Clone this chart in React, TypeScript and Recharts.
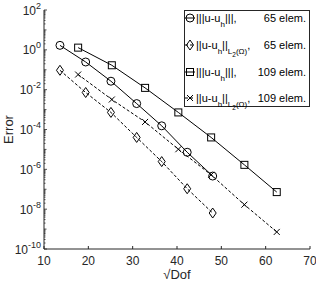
import React from "react";
import { LineChart, Line, XAxis, YAxis } from "recharts";

// sqrt(Dof) for the two meshes
const dof65 = [13.6, 19.4, 25.1, 30.9, 36.55, 42.3, 48.05];
const dof109 = [17.7, 25.3, 32.8, 40.3, 47.7, 55.2, 62.5];

// errors
const energy65 = [1.68, 0.245, 0.0266, 2.0e-3, 1.53e-4, 7.2e-6, 4.6e-7];
const l2err65 = [0.094, 7.2e-3, 7.2e-4, 4.0e-5, 2.45e-6, 1.06e-7, 6.4e-9];
const energy109 = [1.29, 0.168, 0.0123, 7.2e-4, 4.0e-5, 1.68e-6, 7.2e-8];
const l2err109 = [0.0575, 3.2e-3, 2.4e-4, 1.02e-5, 5.3e-7, 1.68e-8, 7.2e-10];

const xTicks = [10, 20, 30, 40, 50, 60, 70];
const yMajorTicks = [1e2, 1e0, 1e-2, 1e-4, 1e-6, 1e-8, 1e-10];
const legendElems = ["65 elem.", "65 elem.", "109 elem.", "109 elem."];

// minor log ticks (1..9 x 10^k)
const yAllTicks: number[] = [];
for (let e = -10; e < 2; e++) {
    for (let m = 1; m < 10; m++) yAllTicks.push(m * Math.pow(10, e));
}
yAllTicks.push(100);

const AX = "#262626";
const FONT = '"Liberation Sans", Arial, Helvetica, sans-serif';

const isMajor = (v: number) =>
    yMajorTicks.some((t) => Math.abs(Math.log10(v) - Math.log10(t)) < 1e-6);
const isDecade = (v: number) => Math.abs(Math.log10(v) - Math.round(Math.log10(v))) < 1e-6;

const toRows = (xs: number[], ys: number[]) => xs.map((x, i) => ({ x, err: ys[i] }));

function BottomTick({ x, y, payload }: any) {
    const y0 = y - 6;
    return (
        <g>
            <line x1={x} x2={x} y1={y0} y2={y0 - 3} stroke={AX} />
            <text x={x} y={y + 10} textAnchor="middle" fontSize={12} fill={AX} fontFamily={FONT}>
                {payload.value}
            </text>
        </g>
    );
}

function TopTick({ x, y }: any) {
    return <line x1={x} x2={x} y1={y} y2={y + 3} stroke={AX} />;
}

function LeftTick({ x, y, payload }: any) {
    const x0 = x + 3;
    const v = payload.value;
    const len = isMajor(v) ? 3 : isDecade(v) ? 2.5 : 1.5;
    const exp = Math.round(Math.log10(v));
    return (
        <g>
            <line x1={x0} x2={x0 + len} y1={y} y2={y} stroke={AX} strokeWidth={0.8} />
            {isMajor(v) && (
                <text x={x} y={y + 4.5} textAnchor="end" fontSize={12} fill={AX} fontFamily={FONT}>
                    <tspan>10</tspan>
                    <tspan dy={-6} fontSize={9}>{exp}</tspan>
                </text>
            )}
        </g>
    );
}

function RightTick({ x, y, payload }: any) {
    const v = payload.value;
    const len = isMajor(v) ? 3 : isDecade(v) ? 2.5 : 1.5;
    return <line x1={x} x2={x - len} y1={y} y2={y} stroke={AX} strokeWidth={0.8} />;
}

const circleDot = (p: any) => (
    <circle key={`c${p.index}`} cx={p.cx} cy={p.cy} r={4} fill="none" stroke="#000" />
);
const diamondDot = (p: any) => (
    <polygon
        key={`d${p.index}`}
        points={`${p.cx},${p.cy - 5} ${p.cx + 3.5},${p.cy} ${p.cx},${p.cy + 5} ${p.cx - 3.5},${p.cy}`}
        fill="none"
        stroke="#000"
    />
);
const squareDot = (p: any) => (
    <rect key={`s${p.index}`} x={p.cx - 3.5} y={p.cy - 3.5} width={7} height={7} fill="none" stroke="#000" />
);
const crossDot = (p: any) => (
    <path
        key={`x${p.index}`}
        d={`M${p.cx - 3},${p.cy - 3}L${p.cx + 3},${p.cy + 3}M${p.cx - 3},${p.cy + 3}L${p.cx + 3},${p.cy - 3}`}
        stroke="#000"
        fill="none"
    />
);

function LegendIcon({ kind, dashed }: { kind: string; dashed: boolean }) {
    return (
        <svg width={12} height={12} style={{ position: "absolute", left: 0, top: 0 }}>
            <line x1={0} x2={10} y1={6} y2={6} stroke="#000" strokeDasharray={dashed ? "3 2" : undefined} />
            {kind === "circle" && <circle cx={5} cy={6} r={4} fill="none" stroke="#000" />}
            {kind === "diamond" && <polygon points="5,1 8.5,6 5,11 1.5,6" fill="none" stroke="#000" />}
            {kind === "square" && <rect x={1.5} y={2.5} width={7} height={7} fill="none" stroke="#000" />}
            {kind === "cross" && <path d="M2,3L8,9M2,9L8,3" stroke="#000" fill="none" />}
        </svg>
    );
}

const sub = (s: React.ReactNode, top = 5, size = 8) => (
    <span style={{ position: "relative", top, fontSize: size }}>{s}</span>
);

const EnergyLabel = () => <span>|||u-u{sub("h")}|||,</span>;
const L2Label = () => (
    <span>
        ||u-u{sub("h")}||{sub(<>L{sub("2", 3, 6.5)}(Ω)</>)},
    </span>
);

const legendRows = [
    { kind: "circle", dashed: false, label: <EnergyLabel />, center: 7 },
    { kind: "diamond", dashed: true, label: <L2Label />, center: 34 },
    { kind: "square", dashed: false, label: <EnergyLabel />, center: 61 },
    { kind: "cross", dashed: true, label: <L2Label />, center: 87 },
];

export default function App() {
    return (
        <div style={{ position: "relative", width: 316, height: 284, background: "#fff", fontFamily: FONT }}>
            <style>{`body{margin:0}`}</style>
            <LineChart width={316} height={284} margin={{ top: 10, right: 6, bottom: 0, left: 0 }}>
                <XAxis
                    xAxisId="b"
                    dataKey="x"
                    type="number"
                    domain={[10, 70]}
                    ticks={xTicks}
                    interval={0}
                    height={35}
                    tickSize={0}
                    tickMargin={6}
                    tick={<BottomTick />}
                    stroke={AX}
                    allowDataOverflow
                    label={{ value: "√Dof", position: "insideBottom", offset: 5, fontSize: 13, fill: AX, fontFamily: FONT }}
                />
                <XAxis
                    xAxisId="t"
                    orientation="top"
                    dataKey="x"
                    type="number"
                    domain={[10, 70]}
                    ticks={xTicks}
                    interval={0}
                    height={0}
                    tickSize={0}
                    tickMargin={0}
                    tick={<TopTick />}
                    stroke={AX}
                    allowDataOverflow
                />
                <YAxis
                    yAxisId="l"
                    scale="log"
                    type="number"
                    domain={[1e-10, 100]}
                    ticks={yAllTicks}
                    interval={0}
                    width={44}
                    tickSize={0}
                    tickMargin={3}
                    tick={<LeftTick />}
                    stroke={AX}
                    allowDataOverflow
                    label={{
                        value: "Error",
                        angle: -90,
                        position: "insideLeft",
                        offset: 8,
                        fontSize: 13,
                        fill: AX,
                        fontFamily: FONT,
                        style: { textAnchor: "middle" },
                    }}
                />
                <YAxis
                    yAxisId="r"
                    orientation="right"
                    scale="log"
                    type="number"
                    domain={[1e-10, 100]}
                    ticks={yAllTicks}
                    interval={0}
                    width={0}
                    tickSize={0}
                    tickMargin={0}
                    tick={<RightTick />}
                    stroke={AX}
                    allowDataOverflow
                />
                <Line
                    xAxisId="b"
                    yAxisId="l"
                    data={toRows(dof65, energy65)}
                    dataKey="err"
                    type="linear"
                    stroke="#000"
                    strokeWidth={1}
                    dot={circleDot}
                    activeDot={false}
                    isAnimationActive={false}
                />
                <Line
                    xAxisId="b"
                    yAxisId="l"
                    data={toRows(dof65, l2err65)}
                    dataKey="err"
                    type="linear"
                    stroke="#000"
                    strokeWidth={1}
                    strokeDasharray="3 2"
                    dot={diamondDot}
                    activeDot={false}
                    isAnimationActive={false}
                />
                <Line
                    xAxisId="b"
                    yAxisId="l"
                    data={toRows(dof109, energy109)}
                    dataKey="err"
                    type="linear"
                    stroke="#000"
                    strokeWidth={1}
                    dot={squareDot}
                    activeDot={false}
                    isAnimationActive={false}
                />
                <Line
                    xAxisId="b"
                    yAxisId="l"
                    data={toRows(dof109, l2err109)}
                    dataKey="err"
                    type="linear"
                    stroke="#000"
                    strokeWidth={1}
                    strokeDasharray="3 2"
                    dot={crossDot}
                    activeDot={false}
                    isAnimationActive={false}
                />
            </LineChart>
            <div
                style={{
                    position: "absolute",
                    left: 184,
                    top: 10,
                    width: 126,
                    height: 97,
                    border: `1px solid ${AX}`,
                    boxSizing: "border-box",
                    background: "#fff",
                    fontSize: 11,
                    color: "#000",
                    lineHeight: "14px",
                }}
            >
                {legendRows.map((r, i) => (
                    <div key={i} style={{ position: "absolute", left: 0, right: 0, top: r.center - 7, height: 14 }}>
                        <div style={{ position: "absolute", left: 0, top: 1, width: 12, height: 12 }}>
                            <LegendIcon kind={r.kind} dashed={r.dashed} />
                        </div>
                        <span style={{ position: "absolute", left: 11, top: 0, whiteSpace: "nowrap" }}>{r.label}</span>
                        <span style={{ position: "absolute", right: 3, top: 0, whiteSpace: "nowrap" }}>{legendElems[i]}</span>
                    </div>
                ))}
            </div>
        </div>
    );
}
